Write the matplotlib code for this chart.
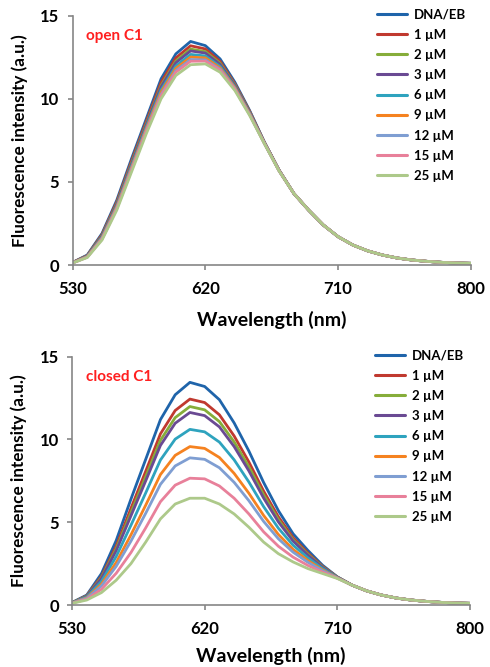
import matplotlib
matplotlib.use("Agg")
import matplotlib.pyplot as plt

plt.rcParams['font.family'] = ['Lato', 'DejaVu Sans']

wavelength = list(range(530, 801, 10))

labels = ["DNA/EB", "1 µM", "2 µM", "3 µM", "6 µM", "9 µM", "12 µM", "15 µM", "25 µM"]
colors = ["#1F64AA", "#C0392F", "#86AD3A", "#6A4A93", "#2EA3BE",
          "#F58220", "#7F9ED2", "#E8809A", "#ADC98A"]

# ---- open C1 panel ----
open_dna = [0.15, 0.6, 1.9, 3.9, 6.4, 8.8, 11.2, 12.7, 13.45, 13.2, 12.4, 11.0, 9.3, 7.4,
            5.7, 4.3, 3.3, 2.4, 1.7, 1.2, 0.85, 0.6, 0.42, 0.3, 0.22, 0.16, 0.12, 0.1]
open_1 = [0.15, 0.57, 1.83, 3.79, 6.25, 8.63, 10.98, 12.46, 13.19, 13.0, 12.25, 10.9, 9.25, 7.38,
          5.7, 4.3, 3.3, 2.4, 1.7, 1.2, 0.85, 0.6, 0.42, 0.3, 0.22, 0.16, 0.12, 0.1]
open_2 = [0.14, 0.55, 1.77, 3.7, 6.14, 8.5, 10.8, 12.27, 12.99, 12.84, 12.14, 10.84, 9.2, 7.37,
          5.69, 4.3, 3.3, 2.4, 1.7, 1.2, 0.85, 0.6, 0.42, 0.3, 0.22, 0.16, 0.12, 0.1]
open_3 = [0.14, 0.54, 1.74, 3.65, 6.07, 8.43, 10.71, 12.17, 12.88, 12.75, 12.07, 10.8, 9.18, 7.36,
          5.69, 4.3, 3.3, 2.4, 1.7, 1.2, 0.85, 0.6, 0.42, 0.3, 0.22, 0.16, 0.12, 0.1]
open_6 = [0.13, 0.52, 1.68, 3.56, 5.95, 8.3, 10.53, 11.97, 12.67, 12.58, 11.95, 10.72, 9.13, 7.34,
          5.68, 4.3, 3.3, 2.4, 1.7, 1.2, 0.85, 0.6, 0.42, 0.3, 0.22, 0.16, 0.12, 0.1]
open_9 = [0.13, 0.5, 1.63, 3.5, 5.86, 8.2, 10.4, 11.83, 12.51, 12.46, 11.86, 10.67, 9.1, 7.33,
          5.67, 4.3, 3.3, 2.4, 1.7, 1.2, 0.85, 0.6, 0.42, 0.3, 0.22, 0.16, 0.12, 0.1]
open_12 = [0.12, 0.48, 1.59, 3.43, 5.78, 8.1, 10.26, 11.69, 12.36, 12.34, 11.78, 10.61, 9.07, 7.32,
           5.66, 4.3, 3.3, 2.4, 1.7, 1.2, 0.85, 0.6, 0.42, 0.3, 0.22, 0.16, 0.12, 0.1]
open_15 = [0.12, 0.47, 1.56, 3.39, 5.72, 8.04, 10.18, 11.6, 12.26, 12.27, 11.72, 10.58, 9.05, 7.32,
           5.66, 4.3, 3.3, 2.4, 1.7, 1.2, 0.85, 0.6, 0.42, 0.3, 0.22, 0.16, 0.12, 0.1]
open_25 = [0.12, 0.45, 1.5, 3.3, 5.6, 7.9, 10.0, 11.4, 12.05, 12.1, 11.6, 10.5, 9.0, 7.3,
           5.65, 4.3, 3.3, 2.4, 1.7, 1.2, 0.85, 0.6, 0.42, 0.3, 0.22, 0.16, 0.12, 0.1]

# ---- closed C1 panel ----
closed_dna = [0.15, 0.6, 1.9, 3.9, 6.4, 8.8, 11.2, 12.7, 13.45, 13.2, 12.4, 11.0, 9.3, 7.4,
              5.7, 4.3, 3.3, 2.4, 1.7, 1.2, 0.85, 0.6, 0.42, 0.3, 0.22, 0.16, 0.12, 0.1]
closed_1 = [0.14, 0.56, 1.73, 3.55, 5.84, 8.08, 10.34, 11.75, 12.44, 12.23, 11.49, 10.21, 8.64, 6.88,
            5.33, 4.06, 3.14, 2.33, 1.69, 1.2, 0.85, 0.6, 0.42, 0.3, 0.22, 0.16, 0.12, 0.1]
closed_2 = [0.14, 0.54, 1.66, 3.4, 5.58, 7.75, 9.95, 11.32, 11.99, 11.79, 11.08, 9.85, 8.34, 6.65,
            5.16, 3.94, 3.07, 2.3, 1.68, 1.2, 0.85, 0.6, 0.42, 0.3, 0.22, 0.16, 0.12, 0.1]
closed_3 = [0.13, 0.52, 1.6, 3.28, 5.39, 7.5, 9.64, 10.98, 11.63, 11.44, 10.76, 9.57, 8.1, 6.46,
            5.02, 3.86, 3.01, 2.27, 1.67, 1.2, 0.85, 0.6, 0.42, 0.3, 0.22, 0.16, 0.12, 0.1]
closed_6 = [0.13, 0.48, 1.43, 2.93, 4.82, 6.77, 8.76, 10.02, 10.61, 10.46, 9.84, 8.77, 7.43, 5.94,
            4.64, 3.61, 2.85, 2.2, 1.66, 1.2, 0.85, 0.6, 0.42, 0.3, 0.22, 0.16, 0.12, 0.1]
closed_9 = [0.12, 0.43, 1.26, 2.57, 4.24, 6.03, 7.88, 9.04, 9.57, 9.46, 8.91, 7.95, 6.75, 5.41,
            4.26, 3.36, 2.69, 2.12, 1.64, 1.2, 0.85, 0.6, 0.42, 0.3, 0.22, 0.16, 0.12, 0.1]
closed_12 = [0.12, 0.4, 1.15, 2.34, 3.86, 5.54, 7.29, 8.4, 8.89, 8.8, 8.29, 7.41, 6.3, 5.05,
             4.0, 3.19, 2.58, 2.07, 1.63, 1.2, 0.85, 0.6, 0.42, 0.3, 0.22, 0.16, 0.12, 0.1]
closed_15 = [0.11, 0.35, 0.95, 1.92, 3.17, 4.66, 6.24, 7.24, 7.66, 7.62, 7.19, 6.45, 5.5, 4.42,
             3.55, 2.89, 2.39, 1.99, 1.62, 1.2, 0.85, 0.6, 0.42, 0.3, 0.22, 0.16, 0.12, 0.1]
closed_25 = [0.1, 0.3, 0.75, 1.5, 2.5, 3.8, 5.2, 6.1, 6.45, 6.45, 6.1, 5.5, 4.7, 3.8,
             3.1, 2.6, 2.2, 1.9, 1.6, 1.2, 0.85, 0.6, 0.42, 0.3, 0.22, 0.16, 0.12, 0.1]

open_series = [open_dna, open_1, open_2, open_3, open_6, open_9, open_12, open_15, open_25]
closed_series = [closed_dna, closed_1, closed_2, closed_3, closed_6, closed_9, closed_12, closed_15, closed_25]

x_ticks = [530, 620, 710, 800]
y_ticks = [0, 5, 10, 15]

W, H = 490, 667
fig = plt.figure(figsize=(W / 100, H / 100), dpi=100)
fig.patch.set_facecolor('white')

def px(l, t, r, b):
    return [l / W, 1 - b / H, (r - l) / W, (b - t) / H]

panels = [
    (px(72.5, 15.7, 471, 265), open_series, "open C1", (415, 16.5), 10),
    (px(72, 356.7, 470, 605), closed_series, "closed C1", (413, 357.5), 7),
]

spine_col = "#868686"
for rect, series, tag, leg_pos, xpad in panels:
    ax = fig.add_axes(rect)
    for ys, lab, col in zip(series, labels, colors):
        ax.plot(wavelength, ys, color=col, lw=2.0, label=lab,
                solid_capstyle='round', solid_joinstyle='round')
    ax.set_xlim(530, 800)
    ax.set_ylim(0, 15)
    ax.set_xticks(x_ticks)
    ax.set_yticks(y_ticks)
    for s in ['top', 'right']:
        ax.spines[s].set_visible(False)
    for s in ['left', 'bottom']:
        ax.spines[s].set_color(spine_col)
        ax.spines[s].set_linewidth(1.2)
    ax.tick_params(axis='both', direction='out', length=3.5, width=1.2, color=spine_col,
                   labelsize=12)
    ax.tick_params(axis='x', pad=8)
    ax.tick_params(axis='y', pad=6)
    for t in ax.get_xticklabels() + ax.get_yticklabels():
        t.set_fontweight('bold')
    ax.set_xlabel("Wavelength (nm)", fontsize=14, fontweight='bold', labelpad=xpad)
    ax.set_ylabel("Fluorescence intensity (a.u.)", fontsize=12.3, fontweight='bold', labelpad=9)
    ax.text(0.034, 0.92, tag, transform=ax.transAxes, color="#FF1F1F", fontsize=11,
            fontweight='bold', va='center', ha='left')
    leg = ax.legend(loc='upper left', bbox_to_anchor=((leg_pos[0] - 38 - rect[0] * W) / (rect[2] * W),
                                                       1 - (leg_pos[1] - 8 - (1 - rect[1] - rect[3]) * H) / (rect[3] * H)),
                    frameon=False, fontsize=9.5, handlelength=2.3, handletextpad=0.5,
                    labelspacing=0.62, borderaxespad=0, borderpad=0)
    for t in leg.get_texts():
        t.set_fontweight('bold')
    for l in leg.get_lines():
        l.set_linewidth(2.2)

fig.savefig("out.png", dpi=100)
